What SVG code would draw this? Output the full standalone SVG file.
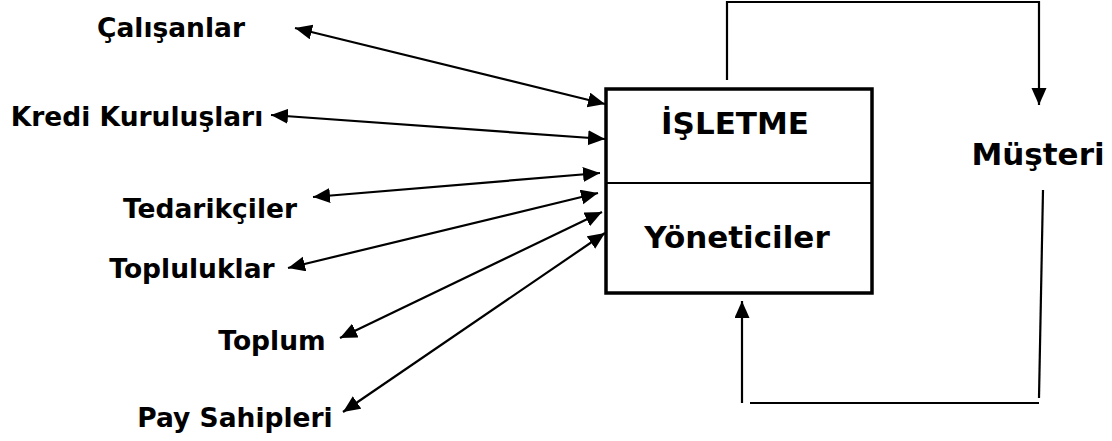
<svg xmlns="http://www.w3.org/2000/svg" width="1112" height="441" viewBox="0 0 1112 441">
  <style>
    .lbl { font-family: "DejaVu Sans", Verdana, sans-serif; font-weight: bold; fill: #000; text-anchor: middle; }
    .side { font-size: 26.5px; }
    .big { font-size: 31px; }
    .conn { stroke: #000; stroke-width: 2.2; fill: none; }
  </style>
  <defs>
    <marker id="head" markerUnits="userSpaceOnUse" markerWidth="19" markerHeight="17" refX="17" refY="7.5" orient="auto-start-reverse">
      <path d="M0,0 L17,7.5 L0,15 z" fill="#000"/>
    </marker>
  </defs>

  <rect width="1112" height="441" fill="#fff"/>

  <!-- central organisation box -->
  <g id="isletme">
    <rect x="606" y="89" width="266" height="204" fill="#fff" stroke="#000" stroke-width="3.5"/>
    <line x1="606" y1="183" x2="872" y2="183" stroke="#000" stroke-width="2"/>
    <text class="lbl big" x="735" y="134">İŞLETME</text>
    <text class="lbl big" x="737" y="248">Yöneticiler</text>
  </g>

  <!-- stakeholders -->
  <g id="calisanlar"><text class="lbl side" x="171" y="37">Çalışanlar</text></g>
  <g id="kredi"><text class="lbl side" x="137" y="126">Kredi Kuruluşları</text></g>
  <g id="tedarikciler"><text class="lbl side" x="210" y="218">Tedarikçiler</text></g>
  <g id="topluluklar"><text class="lbl side" x="192" y="278">Topluluklar</text></g>
  <g id="toplum"><text class="lbl side" x="272" y="350">Toplum</text></g>
  <g id="pay-sahipleri"><text class="lbl side" x="235" y="427">Pay Sahipleri</text></g>
  <g id="musteri"><text class="lbl big" x="1038" y="165">Müşteri</text></g>

  <!-- connectors -->
  <g id="connectors">
    <line class="conn" x1="295" y1="28" x2="605" y2="104" marker-start="url(#head)" marker-end="url(#head)"/>
    <line class="conn" x1="271" y1="115" x2="605" y2="139" marker-start="url(#head)" marker-end="url(#head)"/>
    <line class="conn" x1="313" y1="197" x2="600" y2="173" marker-start="url(#head)" marker-end="url(#head)"/>
    <line class="conn" x1="288" y1="268" x2="598" y2="193" marker-start="url(#head)" marker-end="url(#head)"/>
    <line class="conn" x1="340" y1="338" x2="602" y2="212" marker-start="url(#head)" marker-end="url(#head)"/>
    <line class="conn" x1="343" y1="412" x2="605" y2="233" marker-start="url(#head)" marker-end="url(#head)"/>

    <!-- loop to customer and back -->
    <polyline class="conn" points="727,80 727,2 1039,2 1039,105" marker-end="url(#head)"/>
    <line class="conn" x1="1043" y1="190" x2="1039" y2="398"/>
    <line class="conn" x1="750" y1="403" x2="1039" y2="403"/>
    <line class="conn" x1="742" y1="403" x2="742" y2="301" marker-end="url(#head)"/>
  </g>
</svg>
